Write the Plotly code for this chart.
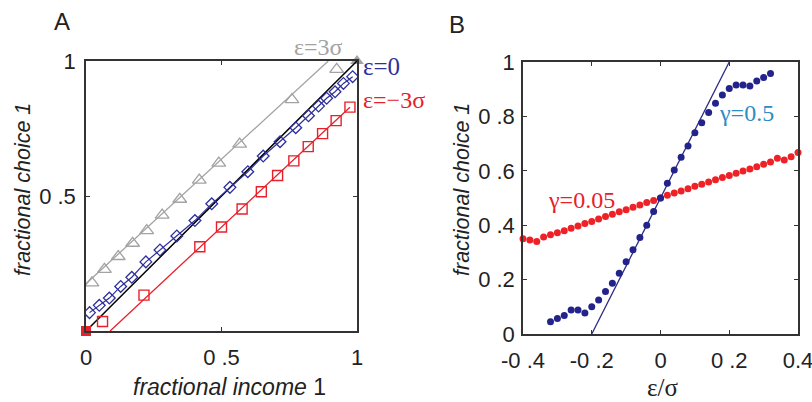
import plotly.graph_objects as go

# ---------------- Panel A data ----------------
a_black_x = [0.0, 1.0]
a_black_y = [0.0, 1.0]

a_gray_tri_x = [0.022, 0.068, 0.119, 0.172, 0.224, 0.281, 0.346, 0.418, 0.490, 0.567, 0.760, 0.925]
a_gray_tri_y = [0.178, 0.228, 0.276, 0.325, 0.372, 0.429, 0.488, 0.559, 0.622, 0.692, 0.857, 0.969]
a_gray_line_x = [0.0, 0.894]
a_gray_line_y = [0.175, 1.0]
a_gray_end_x = [1.0]
a_gray_end_y = [1.0]

a_blue_x = [0.013, 0.049, 0.086, 0.128, 0.169, 0.221, 0.273, 0.335, 0.402, 0.464, 0.531,
            0.597, 0.654, 0.716, 0.774, 0.821, 0.858, 0.888, 0.919, 0.950, 0.984]
a_blue_y = [0.068, 0.095, 0.122, 0.165, 0.199, 0.256, 0.300, 0.352, 0.409, 0.471, 0.532,
            0.590, 0.648, 0.701, 0.753, 0.797, 0.833, 0.862, 0.886, 0.917, 0.942]

a_red_sq_x = [0.061, 0.214, 0.420, 0.500, 0.576, 0.647, 0.707, 0.767, 0.820, 0.873, 0.923, 0.974]
a_red_sq_y = [0.035, 0.133, 0.312, 0.385, 0.452, 0.516, 0.576, 0.630, 0.683, 0.731, 0.779, 0.829]
a_red_line_x = [0.089, 0.974]
a_red_line_y = [0.0, 0.829]
a_red_end_x = [0.0]
a_red_end_y = [0.0]

a_tickvals = [0, 0.5, 1]
a_x_ticktext = ["0", "0 .5", "1"]
a_y_tickvals = [0.5, 1]
a_y_ticktext = ["0 .5", "1"]

# ---------------- Panel B data ----------------
b_red_x = [-0.40, -0.38, -0.36, -0.34, -0.32, -0.30, -0.28, -0.26, -0.24, -0.22, -0.20,
           -0.18, -0.16, -0.14, -0.12, -0.10, -0.08, -0.06, -0.04, -0.02, 0.00,
           0.02, 0.04, 0.06, 0.08, 0.10, 0.12, 0.14, 0.16, 0.18, 0.20,
           0.22, 0.24, 0.26, 0.28, 0.30, 0.32, 0.34, 0.36, 0.38, 0.40]
b_red_y = [0.350, 0.346, 0.340, 0.357, 0.365, 0.372, 0.380, 0.389, 0.397, 0.406, 0.414,
           0.423, 0.432, 0.440, 0.449, 0.457, 0.466, 0.474, 0.483, 0.491, 0.500,
           0.510, 0.518, 0.526, 0.534, 0.543, 0.551, 0.559, 0.567, 0.575, 0.583,
           0.591, 0.599, 0.607, 0.615, 0.624, 0.632, 0.646, 0.640, 0.652, 0.667]

b_blue_x = [-0.32, -0.30, -0.28, -0.26, -0.24, -0.22, -0.20, -0.18, -0.16, -0.14, -0.12,
            -0.10, -0.08, -0.06, -0.04, -0.02, 0.00, 0.02, 0.04, 0.06, 0.08,
            0.10, 0.12, 0.14, 0.16, 0.18, 0.20, 0.22, 0.24, 0.26, 0.28, 0.30, 0.32]
b_blue_y = [0.045, 0.057, 0.068, 0.088, 0.088, 0.077, 0.100, 0.125, 0.156, 0.187, 0.223,
            0.266, 0.310, 0.355, 0.400, 0.450, 0.500, 0.554, 0.603, 0.650, 0.691,
            0.740, 0.777, 0.814, 0.848, 0.879, 0.903, 0.915, 0.915, 0.912, 0.930, 0.943, 0.958]
b_line_x = [-0.2, 0.2]
b_line_y = [0.0, 1.0]

b_x_tickvals = [-0.4, -0.2, 0, 0.2, 0.4]
b_x_ticktext = ["-0 .4", "-0 .2", "0", "0 .2", "0.4"]
b_y_tickvals = [0, 0.2, 0.4, 0.6, 0.8, 1]
b_y_ticktext = ["0", "0 .2", "0 .4", "0 .6", "0 .8", "1"]

# ---------------- styles ----------------
W, H = 812, 402
GRAY = "#a3a3a3"
BLUE_A = "#2f2f9c"
RED = "#e8202a"
NAVY = "#23238c"
LINE_B = "#2c2c84"
LIGHTBLUE = "#2d8cc2"
SANS = "Liberation Sans, Arial, sans-serif"
SERIF = "Liberation Serif, Times New Roman, serif"

fig = go.Figure()

# Panel A
fig.add_trace(go.Scatter(x=a_gray_line_x, y=a_gray_line_y, mode="lines",
                         line=dict(color=GRAY, width=1.3), xaxis="x", yaxis="y"))
fig.add_trace(go.Scatter(x=a_gray_tri_x, y=a_gray_tri_y, mode="markers",
                         marker=dict(symbol="triangle-up-open", size=12, color=GRAY,
                                     line=dict(width=1.3, color=GRAY)),
                         xaxis="x", yaxis="y"))
fig.add_trace(go.Scatter(x=a_gray_end_x, y=a_gray_end_y, mode="markers", cliponaxis=False,
                         marker=dict(symbol="triangle-up", size=12, color=GRAY),
                         xaxis="x", yaxis="y"))
fig.add_trace(go.Scatter(x=a_black_x, y=a_black_y, mode="lines",
                         line=dict(color="black", width=1.5), xaxis="x", yaxis="y"))
fig.add_trace(go.Scatter(x=a_blue_x, y=a_blue_y, mode="lines+markers",
                         line=dict(color=BLUE_A, width=1.2),
                         marker=dict(symbol="diamond-open", size=9, color=BLUE_A,
                                     line=dict(width=1.3, color=BLUE_A)),
                         xaxis="x", yaxis="y"))
fig.add_trace(go.Scatter(x=a_red_line_x, y=a_red_line_y, mode="lines",
                         line=dict(color=RED, width=1.3), xaxis="x", yaxis="y"))
fig.add_trace(go.Scatter(x=a_red_sq_x, y=a_red_sq_y, mode="markers",
                         marker=dict(symbol="square-open", size=10, color=RED,
                                     line=dict(width=1.4, color=RED)),
                         xaxis="x", yaxis="y"))
fig.add_trace(go.Scatter(x=a_red_end_x, y=a_red_end_y, mode="markers", cliponaxis=False,
                         marker=dict(symbol="square", size=10, color=RED),
                         xaxis="x", yaxis="y"))

# Panel B
fig.add_trace(go.Scatter(x=b_line_x, y=b_line_y, mode="lines",
                         line=dict(color=LINE_B, width=1.3), xaxis="x2", yaxis="y2"))
fig.add_trace(go.Scatter(x=b_red_x, y=b_red_y, mode="markers", cliponaxis=False,
                         marker=dict(symbol="circle", size=7, color="#ee2226"),
                         xaxis="x2", yaxis="y2"))
fig.add_trace(go.Scatter(x=b_blue_x, y=b_blue_y, mode="markers",
                         marker=dict(symbol="circle", size=7, color=NAVY),
                         xaxis="x2", yaxis="y2"))

xa = [86 / W, 357 / W]
ya = [1 - 331 / H, 1 - 61 / H]
xb = [523 / W, 798 / W]
yb = [1 - 334 / H, 1 - 62 / H]

axis_common = dict(showgrid=False, zeroline=False, showline=True, mirror="ticks",
                   automargin=False, ticklabeloverflow="allow",
                   linecolor="#333333", linewidth=1.5, ticks="inside", ticklen=4,
                   tickcolor="#333333", tickfont=dict(family=SANS, size=22, color="#222222"),
                   tickmode="array")

fig.update_layout(
    template="none",
    width=W, height=H, margin=dict(l=0, r=0, t=0, b=0, autoexpand=False),
    paper_bgcolor="white", plot_bgcolor="white", showlegend=False,
    xaxis=dict(domain=xa, range=[0, 1], anchor="y", tickvals=a_tickvals,
               ticktext=a_x_ticktext, ticklabelstandoff=6, **axis_common),
    yaxis=dict(domain=ya, range=[0, 1], anchor="x", tickvals=a_y_tickvals,
               ticktext=a_y_ticktext, ticklabelstandoff=4, **axis_common),
    xaxis2=dict(domain=xb, range=[-0.4, 0.4], anchor="y2", tickvals=b_x_tickvals,
                ticktext=b_x_ticktext, ticklabelstandoff=6, **axis_common),
    yaxis2=dict(domain=yb, range=[0, 1], anchor="x2", tickvals=b_y_tickvals,
                ticktext=b_y_ticktext, ticklabelstandoff=2, **axis_common),
)

def ann(text, px, py, size, color="#222222", family=SANS, angle=0, xanchor="center"):
    fig.add_annotation(text=text, x=px / W, y=1 - py / H, xref="paper", yref="paper",
                       showarrow=False, textangle=angle, xanchor=xanchor, yanchor="middle",
                       font=dict(family=family, size=size, color=color))

ann("A", 62, 22, 24)
ann("B", 457, 25, 24)
ann("<i>fractional choice 1</i>", 23, 190, 21.5, angle=-90)
ann("<i>fractional income</i> 1", 229, 387, 23)
ann("<i>fractional choice 1</i>", 462, 190, 21.5, angle=-90)
ann("ε/σ", 662, 387, 25, family=SERIF)

ann("ε=3σ", 318, 47, 24, color=GRAY, family=SERIF)
ann("ε=0", 361, 67, 25, color=BLUE_A, family=SERIF, xanchor="left")
ann("ε=−3σ", 361, 100, 24, color=RED, family=SERIF, xanchor="left")
ann("γ=0.5", 746, 113, 24, color=LIGHTBLUE, family=SERIF)
ann("γ=0.05", 581, 200, 24, color=RED, family=SERIF)

fig.write_html("out.html", config={"displayModeBar": False},
               post_script="document.body.style.margin='0';document.body.style.overflow='hidden';")
